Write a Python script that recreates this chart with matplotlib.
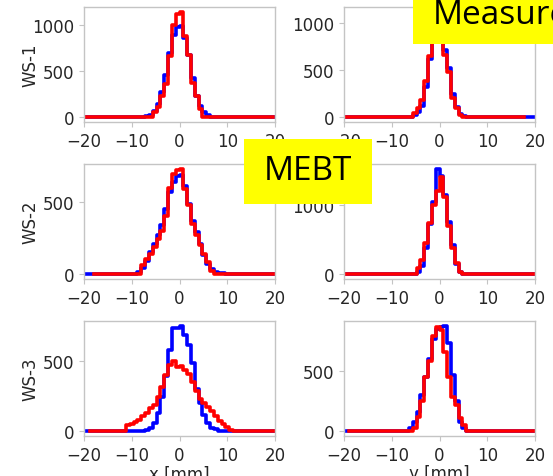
"""
Wire-scanner profiles (MEBT) - measured (blue) vs simulated (red)
3 scanners x 2 planes, step histograms on a common -20..20 mm axis.
"""

import matplotlib
matplotlib.use("Agg")
import matplotlib.pyplot as plt
from matplotlib.patches import Rectangle
from matplotlib.ticker import MultipleLocator
import numpy as np

plt.rcParams.update({
    "font.family": "DejaVu Sans",
    "font.size": 12,
    "axes.edgecolor": "#c4c4c4",
    "axes.linewidth": 1.0,
    "xtick.color": "#c4c4c4",
    "ytick.color": "#c4c4c4",
    "xtick.labelcolor": "#262626",
    "ytick.labelcolor": "#262626",
    "xtick.major.size": 3.5,
    "ytick.major.size": 3.5,
})

W, H = 553, 477
BIN = 0.8
XLIM = (-20, 20)

ROW_LABELS = ["WS-1", "WS-2", "WS-3"]
COL_LABELS = ["x [mm]", "y [mm]"]

# first bin edge of each panel (mm), rows WS-1..WS-3, columns x / y
WS1_X_START, WS1_Y_START = -7.2, -5.6
WS2_X_START, WS2_Y_START = -8.8, -4.8
WS3_X_START, WS3_Y_START = -11.2, -6.4

# counts per 0.8 mm bin
WS1_X_BLUE = [5, 20, 60, 140, 270, 460, 700, 900, 985, 990, 860, 680, 420, 230, 120, 50, 15]
WS1_X_RED = [0, 0, 50, 110, 230, 360, 670, 1000, 1125, 1145, 880, 680, 370, 230, 80, 0, 0]

WS1_Y_BLUE = [15, 50, 120, 320, 620, 850, 1080, 1050, 720, 520, 240, 110, 30, 8]
WS1_Y_RED = [36, 90, 180, 380, 650, 800, 1100, 1120, 660, 480, 200, 90, 20, 0]

WS2_X_BLUE = [10, 40, 90, 150, 210, 270, 340, 450, 570, 640, 680, 690,
              610, 490, 370, 290, 210, 130, 70, 35, 15, 8, 5]
WS2_X_RED = [0, 60, 100, 140, 185, 240, 300, 400, 600, 700, 725, 730,
             590, 480, 350, 270, 200, 140, 85, 20, 0, 0, 0]

WS2_Y_BLUE = [20, 120, 380, 720, 1050, 1520, 1420, 1150, 760, 420, 140, 25]
WS2_Y_RED = [90, 200, 450, 740, 1000, 1210, 1400, 1110, 700, 380, 150, 30]

WS3_X_BLUE = [0, 0, 0, 0, 0, 8, 20, 55, 125, 240, 390, 575, 735, 735,
              745, 680, 610, 480, 300, 195, 110, 55, 20, 10, 0, 0, 0, 0]
WS3_X_RED = [40, 50, 60, 80, 105, 127, 160, 185, 240, 310, 400, 470, 495, 455,
             460, 435, 405, 345, 280, 225, 200, 170, 138, 105, 70, 45, 25, 8]

WS3_Y_BLUE = [25, 70, 160, 300, 450, 600, 770, 860, 870, 880, 740, 470, 250, 70, 20, 0]
WS3_Y_RED = [0, 20, 120, 250, 450, 590, 800, 872, 845, 660, 453, 286, 217, 105, 50, 0]

# where the zero baseline of each red trace starts / stops
RED_SPAN = [[(-20, 19.6), (-20, 17.8)],
            [(-18.0, 20), (-20, 20)],
            [(-18.7, 20), (-18.9, 20)]]

PANELS = [
    [(WS1_X_START, WS1_X_BLUE, WS1_X_RED), (WS1_Y_START, WS1_Y_BLUE, WS1_Y_RED)],
    [(WS2_X_START, WS2_X_BLUE, WS2_X_RED), (WS2_Y_START, WS2_Y_BLUE, WS2_Y_RED)],
    [(WS3_X_START, WS3_X_BLUE, WS3_X_RED), (WS3_Y_START, WS3_Y_BLUE, WS3_Y_RED)],
]
YSTEP = [[500, 500], [500, 1000], [500, 500]]


def step_xy(start, counts, x0, x1):
    """Outline of a histogram, extended with zero out to x0 / x1."""
    counts = np.asarray(counts, dtype=float)
    edges = start + BIN * np.arange(len(counts) + 1)
    xs = np.concatenate([[x0], np.repeat(edges, 2), [x1]])
    ys = np.concatenate([[0, 0], np.repeat(counts, 2), [0, 0]])
    return xs, ys


fig = plt.figure(figsize=(W / 100, H / 100), dpi=100)

col_left = [84, 344]
row_bottom = [123, 280, 437]
ax_w, ax_h = 191, 115

for r in range(3):
    for c in range(2):
        ax = fig.add_axes([col_left[c] / W, 1 - row_bottom[r] / H, ax_w / W, ax_h / H])
        start, blue, red = PANELS[r][c]
        xb, yb = step_xy(start, blue, -20, 20)
        xr, yr = step_xy(start, red, *RED_SPAN[r][c])
        ax.plot(xb, yb, color="blue", lw=2.6)
        ax.plot(xr, yr, color="red", lw=2.6)
        ax.set_xlim(*XLIM)
        ax.set_xticks([-20, -10, 0, 10, 20])
        ax.yaxis.set_major_locator(MultipleLocator(YSTEP[r][c]))
        if c == 0:
            ax.set_ylabel(ROW_LABELS[r], color="#262626")
            ax.yaxis.set_label_coords(-0.232, 0.5)
        if r == 2:
            ax.set_xlabel(COL_LABELS[c], color="#262626", labelpad=0.5)

# yellow slide call-outs on top of the plots
fig.add_artist(Rectangle((413 / W, 1 - 45 / H), 150 / W, 50 / H,
                         transform=fig.transFigure, facecolor="#ffff00",
                         edgecolor="none", zorder=10))
fig.text(433 / W, 1 - 24 / H, "Measured", fontsize=24, family="Open Sans",
         ha="left", va="baseline", zorder=11)
fig.add_artist(Rectangle((244 / W, 1 - 205 / H), 128 / W, 65 / H,
                         transform=fig.transFigure, facecolor="#ffff00",
                         edgecolor="none", zorder=10))
fig.text(308 / W, 1 - 172 / H, "MEBT", fontsize=24, family="Open Sans",
         ha="center", va="center", zorder=11)

fig.savefig("out.png", dpi=100)
